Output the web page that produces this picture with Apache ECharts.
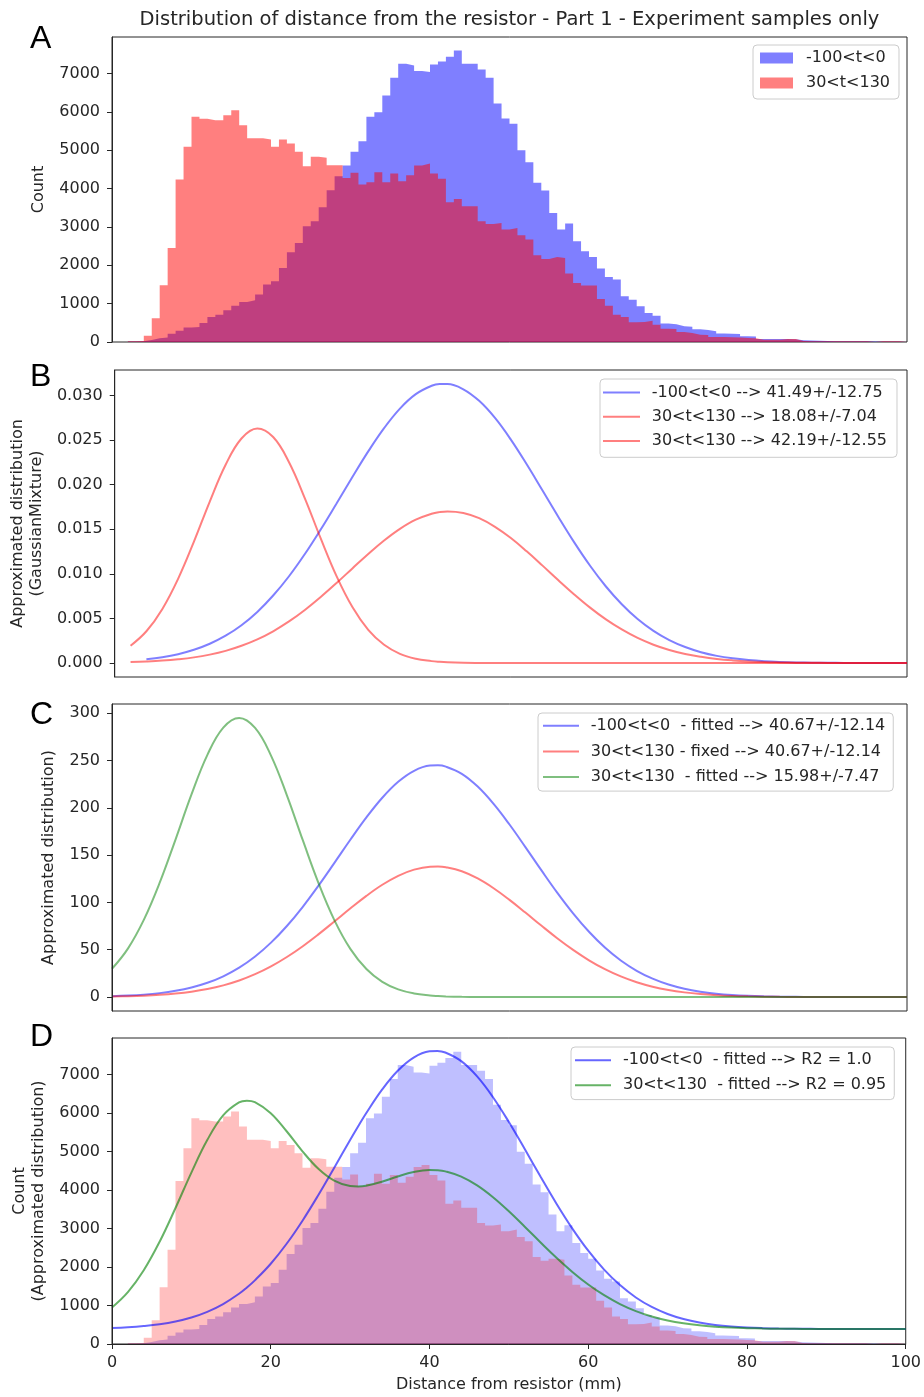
<!DOCTYPE html>
<html>
<head>
<meta charset="utf-8">
<title>Distribution of distance from the resistor</title>
<script src="https://cdn.jsdelivr.net/npm/echarts@6/dist/echarts.min.js"></script>
<style>
  html, body { margin: 0; padding: 0; background: #ffffff; }
  #chart { width: 924px; height: 1397px; }
</style>
</head>
<body>
<div id="chart"></div>
<script>
// ---------------- data ----------------
// histogram bin edges (mm)
const binEdges = [
  2, 3, 4, 5, 6, 7, 8, 9, 10, 11, 12, 13, 14, 15, 16, 17, 18, 19, 20, 21,
  22, 23, 24, 25, 26, 27, 28, 29, 30, 31, 32, 33, 34, 35, 36, 37, 38, 39, 40, 41,
  42, 43, 44, 45, 46, 47, 48, 49, 50, 51, 52, 53, 54, 55, 56, 57, 58, 59, 60, 61,
  62, 63, 64, 65, 66, 67, 68, 69, 70, 71, 72, 73, 74, 75, 76, 77, 78, 79, 80, 81,
  82, 83, 84, 85, 86, 87, 88, 89, 90, 91, 92, 93, 94, 95, 96, 97, 98, 99, 100
];
// counts per bin, -100<t<0
const countsBefore = [
  15, 20, 50, 100, 120, 217, 296, 380, 390, 496,
  652, 713, 826, 948, 1043, 1087, 1235, 1496, 1583, 1930,
  2339, 2583, 3017, 3148, 3513, 3957, 4322, 4600, 4957, 5235,
  5870, 5991, 6426, 6887, 7252, 7209, 7061, 7035, 7235, 7313,
  7435, 7600, 7252, 7252, 7104, 6887, 6217, 5826, 5687, 5000,
  4687, 4148, 3948, 3365, 2930, 3087, 2626, 2365, 2217, 1913,
  1696, 1626, 1191, 1104, 930, 757, 687, 480, 460, 409,
  400, 330, 315, 278, 220, 215, 210, 150, 145, 80,
  78, 75, 75, 70, 45, 40, 30, 25, 22, 20,
  20, 18, 18, 15, 15, 15, 12, 15
];
// counts per bin, 30<t<130
const countsAfter = [
  20, 25, 165, 617, 1478, 2452, 4235, 5087, 5870, 5817,
  5783, 5783, 5913, 6043, 5652, 5313, 5313, 5278, 5087, 5278,
  5174, 4957, 4583, 4826, 4800, 4609, 4609, 4278, 4409, 4104,
  4165, 4426, 4165, 4391, 4191, 4348, 4600, 4652, 4391, 4252,
  3643, 3730, 3539, 3539, 3148, 3078, 3104, 2930, 2974, 2783,
  2670, 2261, 2165, 2217, 2191, 1783, 1539, 1470, 1470, 1122,
  948, 713, 652, 513, 522, 557, 452, 348, 340, 261,
  235, 191, 185, 130, 130, 125, 120, 104, 100, 61,
  60, 58, 78, 75, 25, 22, 20, 20, 20, 20,
  20, 20, 20, 0, 20, 20, 20, 20
];

// GaussianMixture densities sampled along the distance axis
const gmmX = [
  2, 4, 6, 8, 10, 12, 14, 16, 18, 20, 22, 24, 26, 28, 30, 32, 34, 36, 38, 40,
  41, 42, 44, 46, 48, 50, 52, 54, 56, 58, 60, 62, 64, 66, 68, 70, 72, 74, 76, 78, 80,
  82, 84, 86, 88, 90, 92, 94, 96, 98, 100
];
const gmmBefore = [
  null, 0.00042, 0.00065, 0.00099, 0.00148, 0.00216, 0.00306, 0.00424, 0.00573, 0.00757,
  0.00973, 0.01222, 0.01497, 0.01789, 0.02085, 0.02373, 0.02634, 0.02853, 0.03015, 0.03109,
  0.03128, 0.03128, 0.03070, 0.02940, 0.02748, 0.02505, 0.02228, 0.01934, 0.01638, 0.01353, 0.01091,
  0.00858, 0.00659, 0.00493, 0.00360, 0.00257, 0.00179, 0.00121, 0.00080, 0.00052, 0.00033,
  0.00020, 0.00012, 0.00007, 0.00004, 0.00002, 0.00001, 0, 0, 0, 0
];
const gmmAfterNear = [
  0.00194, 0.00356, 0.00604, 0.00944, 0.01361, 0.01811, 0.02223, 0.02518, 0.02630, 0.02534,
  0.02252, 0.01847, 0.01397, 0.00974, 0.00627, 0.00372, 0.00204, 0.00103, 0.00048, 0.00021,
  0.00013, 0.00008, 0.00003, 0.00001, 0, 0, 0, 0, 0, 0, 0,
  0, 0, 0, 0, 0, 0, 0, 0, 0, 0,
  0, 0, 0, 0, 0, 0, 0, 0, 0, 0
];
const gmmAfterFar = [
  0.00010, 0.00017, 0.00027, 0.00042, 0.00063, 0.00094, 0.00136, 0.00193, 0.00265, 0.00356,
  0.00466, 0.00595, 0.00740, 0.00897, 0.01061, 0.01223, 0.01374, 0.01505, 0.01608, 0.01674,
  0.01692, 0.01700, 0.01683, 0.01624, 0.01527, 0.01401, 0.01252, 0.01092, 0.00928, 0.00769, 0.00621,
  0.00489, 0.00376, 0.00281, 0.00205, 0.00146, 0.00101, 0.00069, 0.00045, 0.00029, 0.00018,
  0.00011, 0.00007, 0.00004, 0.00002, 0.00001, 0, 0, 0, 0, 0
];

// fitted curves sampled along the distance axis
const fitX = [
  0, 2, 4, 6, 8, 10, 12, 14, 16, 18, 20, 22, 24, 26, 28, 30, 32, 34, 36, 38,
  40, 41, 42, 44, 46, 48, 50, 52, 54, 56, 58, 60, 62, 64, 66, 68, 70, 72, 74, 76, 78,
  80, 82, 84, 86, 88, 90, 92, 94, 96, 98, 100
];
const fitBefore = [
  0.90, 1.53, 2.56, 4.15, 6.55, 10.07, 15.07, 21.94, 31.07, 42.85,
  57.50, 75.09, 95.43, 118.07, 142.12, 166.50, 189.85, 210.68, 227.53, 239.14,
  244.63, 244.91, 243.53, 235.96, 222.48, 204.18, 182.35, 158.52, 134.09, 110.37, 88.45,
  68.97, 52.33, 38.66, 27.78, 19.43, 13.23, 8.77, 5.65, 3.55, 2.17,
  1.29, 0.75, 0.42, 0.23, 0.12, 0.06, 0.03, 0.01, 0, 0, 0
];
const fitAfterFixed = [
  0.51, 0.86, 1.44, 2.34, 3.69, 5.67, 8.49, 12.36, 17.50, 24.14,
  32.39, 42.30, 53.75, 66.50, 80.05, 93.78, 106.94, 118.67, 128.16, 134.70,
  137.79, 137.95, 137.17, 132.91, 125.32, 115.01, 102.71, 89.29, 75.53, 62.17, 49.82,
  38.85, 29.48, 21.78, 15.65, 10.94, 7.45, 4.94, 3.18, 2.00, 1.22,
  0.73, 0.42, 0.24, 0.13, 0.07, 0.03, 0.02, 0.01, 0, 0, 0
];
const fitAfterFree = [
  29.91, 51.21, 81.54, 120.83, 166.73, 214.14, 255.97, 284.82, 295.00, 284.41,
  255.23, 213.23, 165.79, 119.98, 80.83, 50.68, 29.59, 16.08, 8.13, 3.83,
  1.68, 1.08, 0.68, 0.26, 0.09, 0.03, 0, 0, 0, 0, 0,
  0, 0, 0, 0, 0, 0, 0, 0, 0, 0,
  0, 0, 0, 0, 0, 0, 0, 0, 0, 0, 0
];
// fitted models in count units
const modelX = [
  0, 2, 4, 6, 8, 10, 12, 14, 16, 17, 18, 20, 22, 24, 26, 28, 30, 31, 32, 34, 36, 38,
  40, 41, 42, 44, 46, 48, 50, 52, 54, 56, 58, 60, 62, 64, 66, 68, 70, 72, 74, 76, 78,
  80, 82, 84, 86, 88, 90, 92, 94, 96, 98, 100
];
const modelBefore = [
  416, 435, 466, 512, 583, 687, 835, 1037, 1307, 1471, 1655,
  2087, 2606, 3206, 3874, 4584, 5304, 5655, 5993, 6607, 7105, 7447,
  7609, 7619, 7577, 7353, 6956, 6416, 5771, 5068, 4347, 3647, 3000,
  2425, 1934, 1531, 1210, 963, 780, 649, 557, 495, 454,
  428, 412, 402, 397, 394, 392, 391, 390, 390, 390, 390
];
const modelAfter = [
  950, 1348, 1917, 2659, 3535, 4457, 5302, 5943, 6281, 6325, 6286,
  6001, 5531, 5009, 4555, 4246, 4106, 4095, 4113, 4217, 4355, 4471,
  4524, 4518, 4488, 4353, 4124, 3816, 3449, 3049, 2639, 2242, 1874,
  1547, 1268, 1039, 856, 716, 612, 537, 485, 450, 426,
  412, 402, 397, 394, 392, 391, 390, 390, 390, 390, 390
];

// tick values
const countTicks = [0, 1000, 2000, 3000, 4000, 5000, 6000, 7000];
const densityTicks = [0, 0.005, 0.010, 0.015, 0.020, 0.025, 0.030];
const fitTicks = [0, 50, 100, 150, 200, 250, 300];
const distanceTicks = [0, 20, 40, 60, 80, 100];

// texts
const titleText = 'Distribution of distance from the resistor - Part 1 - Experiment samples only';
const panelLetters = ['A', 'B', 'C', 'D'];
const namesA = ['-100<t<0', '30<t<130'];
const namesB = ['-100<t<0 --> 41.49+/-12.75', '30<t<130 --> 18.08+/-7.04', '30<t<130 --> 42.19+/-12.55'];
const namesC = ['-100<t<0  - fitted --> 40.67+/-12.14', '30<t<130 - fixed --> 40.67+/-12.14', '30<t<130  - fitted --> 15.98+/-7.47'];
const namesD = ['-100<t<0  - fitted --> R2 = 1.0', '30<t<130  - fitted --> R2 = 0.95'];
const yNames = ['Count', 'Approximated distribution\n(GaussianMixture)', 'Approximated distribution)', 'Count\n(Approximated distribution)'];
const xName = 'Distance from resistor (mm)';

// ---------------- helpers ----------------
const FONT = 'DejaVu Sans';
const INK = '#262626';
const LINE_W = 2;

function histPoints(counts) {
  const pts = counts.map((c, i) => [binEdges[i], c]);
  pts.push([binEdges[counts.length], counts[counts.length - 1]]);
  return pts;
}
function curvePoints(xs, ys) {
  const pts = [];
  xs.forEach((x, i) => { if (ys[i] !== null) pts.push([x, ys[i]]); });
  return pts;
}
function histSeries(name, counts, color, axis) {
  return {
    name: name, type: 'line', step: 'end', xAxisIndex: axis, yAxisIndex: axis,
    data: histPoints(counts), symbol: 'none', silent: true,
    itemStyle: { color: color },
    lineStyle: { width: 0, opacity: 0 },
    areaStyle: { color: color, opacity: 1 },
    emphasis: { disabled: true }, z: 2
  };
}
function curveSeries(name, xs, ys, color, axis) {
  return {
    name: name, type: 'line', xAxisIndex: axis, yAxisIndex: axis,
    data: curvePoints(xs, ys), symbol: 'none', silent: true,
    smooth: 0.4,
    itemStyle: { color: color },
    lineStyle: { color: color, width: LINE_W },
    emphasis: { disabled: true }, z: 3
  };
}
function legendBox(names, left, top, iconW, iconH, gap, pad, textPad) {
  return {
    data: names, orient: 'vertical', left: left, top: top,
    icon: 'rect', itemWidth: iconW, itemHeight: iconH, itemGap: gap,
    padding: pad, selectedMode: false,
    itemStyle: { borderWidth: 0 },
    textStyle: { fontFamily: FONT, fontSize: 16, color: INK, padding: [0, 0, 0, textPad] },
    backgroundColor: 'rgba(255,255,255,0.85)', borderColor: '#cccccc', borderWidth: 1, borderRadius: 4
  };
}
function yAxisDef(idx, min, max, ticks, name, gap, fmt) {
  return {
    type: 'value', gridIndex: idx, min: min, max: max,
    name: name, nameLocation: 'middle', nameGap: gap, nameRotate: 90,
    nameTextStyle: { fontFamily: FONT, fontSize: 16, color: INK, lineHeight: 19 },
    axisLine: { show: true, lineStyle: { color: INK, width: 1 } },
    axisTick: { show: true, length: 5, customValues: ticks, lineStyle: { color: INK, width: 1 } },
    axisLabel: { show: true, margin: 12, customValues: ticks, fontFamily: FONT, fontSize: 16, color: INK, formatter: fmt },
    splitLine: { show: false }, z: 5
  };
}
function xAxisDef(idx, withLabels) {
  const ax = {
    type: 'value', gridIndex: idx, min: 0, max: 100,
    axisLine: { show: withLabels, lineStyle: { color: INK, width: 1 } },
    axisTick: { show: withLabels, length: 5, customValues: distanceTicks, lineStyle: { color: INK, width: 1 } },
    axisLabel: { show: withLabels, margin: 11, customValues: distanceTicks, fontFamily: FONT, fontSize: 16, color: INK },
    splitLine: { show: false }, z: 5
  };
  if (withLabels) {
    ax.name = xName;
    ax.nameLocation = 'middle';
    ax.nameGap = 33;
    ax.nameTextStyle = { fontFamily: FONT, fontSize: 16, color: INK };
  }
  return ax;
}

// ---------------- chart ----------------
const chart = echarts.init(document.getElementById('chart'), null, { renderer: 'canvas', width: 924, height: 1397 });

const gridTops = [37, 370, 704, 1038];
const gridHeights = [305, 307, 307, 306];
const letterY = [39, 377, 715, 1037];

const option = {
  backgroundColor: '#ffffff',
  animation: false,
  grid: gridTops.map((t, i) => ({
    left: 112, right: 17, top: t, height: gridHeights[i],
    show: true, borderColor: INK, borderWidth: 1, backgroundColor: 'transparent'
  })),
  xAxis: [xAxisDef(0, false), xAxisDef(1, false), xAxisDef(2, false), xAxisDef(3, true)],
  yAxis: [
    yAxisDef(0, 0, 7950, countTicks, yNames[0], 58, v => String(v)),
    yAxisDef(1, -0.00157, 0.03286, densityTicks, yNames[1], 65, v => v.toFixed(3)),
    yAxisDef(2, -14.75, 309.75, fitTicks, yNames[2], 48, v => String(v)),
    yAxisDef(3, 0, 7955, countTicks, yNames[3], 58, v => String(v))
  ],
  legend: [
    legendBox(namesA, 753, 45, 33, 11, 9, [5, 9, 8, 7], 8),
    legendBox(namesB, 600, 379, 37, 2, 8.3, [5.4, 10, 8.3, 3], 6.7),
    legendBox(namesC, 538, 713, 36, 2, 9.7, [4.7, 8, 6, 5], 6.7),
    legendBox(namesD, 571, 1047, 36, 2, 9, [5.3, 8, 6.3, 4], 7)
  ],
  graphic: [
    {
      type: 'text', x: 509.5, y: 20, silent: true,
      style: { text: titleText, font: '19.5px "DejaVu Sans"', fill: INK, textAlign: 'center', textVerticalAlign: 'middle' }
    }
  ].concat(panelLetters.map((l, i) => ({
    type: 'text', x: 30, y: letterY[i], silent: true,
    style: { text: l, font: '32px "Liberation Sans Narrow", "Liberation Sans", Arial, sans-serif', fill: '#000000', textAlign: 'left', textVerticalAlign: 'middle' }
  }))),
  series: [
    // A: raw histograms
    histSeries(namesA[0], countsBefore, 'rgba(0,0,255,0.5)', 0),
    histSeries(namesA[1], countsAfter, 'rgba(255,0,0,0.5)', 0),
    // B: GaussianMixture components
    curveSeries(namesB[0], gmmX, gmmBefore, 'rgba(0,0,255,0.5)', 1),
    curveSeries(namesB[1], gmmX, gmmAfterNear, 'rgba(255,0,0,0.5)', 1),
    curveSeries(namesB[2], gmmX, gmmAfterFar, 'rgba(255,0,0,0.5)', 1),
    // C: fitted components
    curveSeries(namesC[0], fitX, fitBefore, 'rgba(0,0,255,0.5)', 2),
    curveSeries(namesC[1], fitX, fitAfterFixed, 'rgba(255,0,0,0.5)', 2),
    curveSeries(namesC[2], fitX, fitAfterFree, 'rgba(0,128,0,0.5)', 2),
    // D: histograms with fitted models
    histSeries('-100<t<0 counts', countsBefore, 'rgba(0,0,255,0.25)', 3),
    histSeries('30<t<130 counts', countsAfter, 'rgba(255,0,0,0.25)', 3),
    curveSeries(namesD[0], modelX, modelBefore, 'rgba(0,0,255,0.6)', 3),
    curveSeries(namesD[1], modelX, modelAfter, 'rgba(0,128,0,0.6)', 3)
  ]
};

chart.setOption(option);
</script>
</body>
</html>
